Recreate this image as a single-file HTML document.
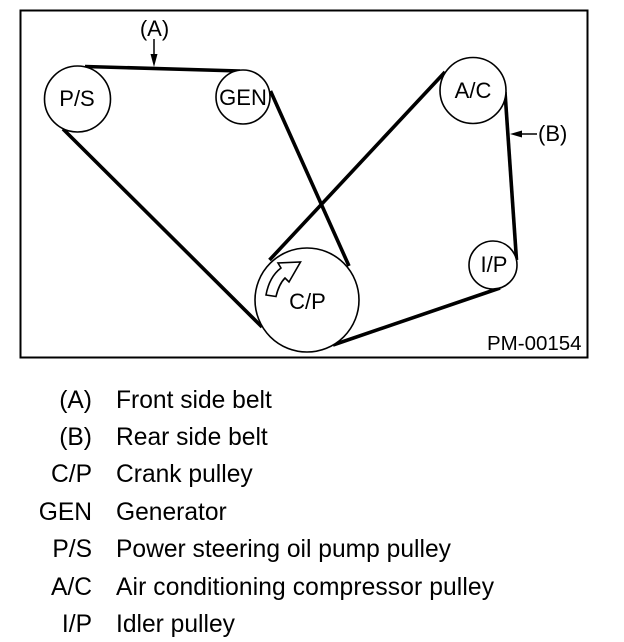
<!DOCTYPE html>
<html><head><meta charset="utf-8"><style>
html,body{margin:0;padding:0;background:#fff}
svg{display:block}
text{font-family:"Liberation Sans",sans-serif;fill:#000}
.l{font-size:24.6px}
.d{font-size:22px}
</style></head><body>
<svg width="624" height="642" viewBox="0 0 624 642" xmlns="http://www.w3.org/2000/svg">
<rect x="20.500" y="10.500" width="567" height="347" fill="#fff" stroke="#000" stroke-width="2"/>
<g stroke="#000" stroke-width="3.6" fill="none">
<line x1="85" y1="66.500" x2="240" y2="71"/>
<line x1="63" y1="129" x2="262" y2="327"/>
<line x1="270.500" y1="91" x2="349" y2="266"/>
<line x1="445" y1="72" x2="269.500" y2="260"/>
<line x1="505" y1="92" x2="516.500" y2="260"/>
<line x1="500" y1="288" x2="333" y2="345"/>
</g>
<g stroke="#000" stroke-width="1.6" fill="#fff">
<circle cx="77.500" cy="99" r="33"/>
<circle cx="243" cy="97" r="27"/>
<circle cx="473" cy="90.500" r="33"/>
<circle cx="493" cy="265" r="24"/>
<circle cx="307" cy="300" r="52"/>
</g>
<line x1="154" y1="39" x2="154" y2="58" stroke="#000" stroke-width="1.500"/>
<polygon points="150.500,54 157.500,54 154,67" fill="#000"/>
<line x1="516" y1="134" x2="537" y2="134" stroke="#000" stroke-width="1.500"/>
<polygon points="510,134 522,130.500 522,137.500" fill="#000"/>
<path d="M266 295 L276 296.500 C278 288 281 282 285 278 L289 282 L300.500 262 L278 263 L281 268 C273 274 268 284 266 295 Z" fill="#fff" stroke="#000" stroke-width="1.600" stroke-linejoin="miter"/>
<g class="d">
<text x="154.500" y="36" text-anchor="middle">(A)</text>
<text x="77" y="106" text-anchor="middle">P/S</text>
<text x="243" y="105" text-anchor="middle">GEN</text>
<text x="473" y="98" text-anchor="middle">A/C</text>
<text x="494" y="272" text-anchor="middle">I/P</text>
<text x="307.500" y="309" text-anchor="middle">C/P</text>
<text x="538" y="141">(B)</text>
<text x="487" y="350" style="font-size:20.500px">PM-00154</text>
</g>
<g class="l">
<text x="92" y="408" text-anchor="end">(A)</text><text x="116" y="408">Front side belt</text>
<text x="92" y="445" text-anchor="end">(B)</text><text x="116" y="445">Rear side belt</text>
<text x="92" y="482" text-anchor="end">C/P</text><text x="116" y="482">Crank pulley</text>
<text x="92" y="520" text-anchor="end">GEN</text><text x="116" y="520">Generator</text>
<text x="92" y="557" text-anchor="end">P/S</text><text x="116" y="557">Power steering oil pump pulley</text>
<text x="92" y="595" text-anchor="end">A/C</text><text x="116" y="595" textLength="378">Air conditioning compressor pulley</text>
<text x="92" y="632" text-anchor="end">I/P</text><text x="116" y="632">Idler pulley</text>
</g>
</svg>
</body></html>
